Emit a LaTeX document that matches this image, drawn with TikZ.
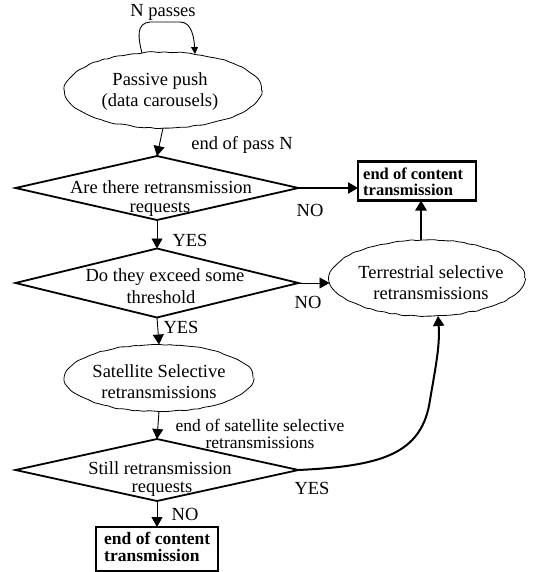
\documentclass[tikz,border=0pt]{standalone}
\usepackage{fontspec}
\setmainfont{Liberation Serif}
\usetikzlibrary{shapes.geometric,arrows.meta,decorations.pathmorphing}
\begin{document}
\begin{tikzpicture}[x=1pt,y=-1pt,
  txt/.style={font=\fontsize{18.5}{21}\selectfont, inner sep=0pt, align=center},
  dia/.style={draw, diamond, line width=1.8pt, inner sep=0pt, outer sep=0pt, line join=miter},
  blob/.style={draw, ellipse, line width=0.8pt, inner sep=0pt, outer sep=0pt,
     decorate, decoration={random steps, segment length=5pt, amplitude=0.7pt}, rounded corners=1.5pt},
  endbox/.style={draw, line width=2.6pt, inner sep=0pt, outer sep=0pt},
  thin/.style={line width=0.9pt, -{Triangle[width=11pt,length=10pt]}},
  thick/.style={line width=2.6pt, -{Triangle[width=11pt,length=10pt]}},
  boxtxt/.style={font=\bfseries\fontsize{16.5}{16.5}\selectfont, inner sep=0pt, align=left}
]
\pgfmathsetseed{7}
\useasboundingbox (0,0) rectangle (532,572);

% shapes
\node[blob, minimum width=197pt, minimum height=76pt] (passive) at (163,90) {};
\node[dia, minimum width=283pt, minimum height=64pt] (d1) at (157,188) {};
\node[endbox, minimum width=118pt, minimum height=39pt] (box1) at (417,181) {};
\node[dia, minimum width=283pt, minimum height=69pt] (d2) at (157,283) {};
\node[blob, minimum width=195pt, minimum height=76pt] (terr) at (427,278) {};
\node[blob, minimum width=188pt, minimum height=67pt] (sat) at (159,378) {};
\node[dia, minimum width=283pt, minimum height=62pt] (d3) at (157,470) {};
\node[endbox, minimum width=122pt, minimum height=44pt] (box2) at (157,549) {};

% texts inside shapes
\node[txt] (tpassive) at (160,92) {Passive push\\(data carousels)};
\node[txt] (td1a) at (161,187) {Are there retransmission};
\node[txt] (td1b) at (160,209) {requests};
\node[txt] (td2a) at (165,277) {Do they exceed some};
\node[txt] (td2b) at (161,297) {threshold};
\node[txt] (tterr) at (431,283) {Terrestrial selective\\retransmissions};
\node[txt] (tsat) at (159,382) {Satellite Selective\\retransmissions};
\node[txt] (td3a) at (160,468) {Still retransmission};
\node[txt] (td3b) at (162,489) {requests};
\node[boxtxt, anchor=west] (tbox1) at (363,182) {end of content\\transmission};
\node[boxtxt, font=\bfseries\fontsize{17.5}{17}\selectfont, anchor=west] (tbox2) at (104,547) {end of content\\transmission};

% labels
\node[txt] (lN) at (163,12) {N passes};
\node[txt] (lpass) at (242,145) {end of pass N};
\node[txt] (lno1) at (310,210) {NO};
\node[txt] (lyes1) at (190,240) {YES};
\node[txt] (lno2) at (308,302) {NO};
\node[txt] (lyes2) at (181,327) {YES};
\node[txt, font=\fontsize{17.5}{17.5}\selectfont] (lsat) at (260,434) {end of satellite selective\\retransmissions};
\node[txt] (lyes3) at (312,488) {YES};
\node[txt] (lno3) at (185,514) {NO};

% loop over passive push
\coordinate (loopA) at (142,53);
\coordinate (loopB) at (195,54);
\draw[line width=0.9pt, -{Triangle[width=7pt,length=7pt]}] (loopA) .. controls (138,38) and (136,23) .. (150,22)
   -- (180,22) .. controls (192,22) and (194,38) .. (loopB);

% connectors
\draw[thin] (passive.south) -- (d1.north);
\draw[thick] (d1.east) -- (d1.east -| box1.west);
\draw[thick] ([xshift=-6pt]terr.north) -- ([xshift=-6pt]terr.north |- box1.south);
\draw[thin] (d1.south) -- (d2.north);
\draw[thin] (d2.east) -- (d2.east -| terr.west);
\draw[thin] (d2.south) -- (sat.north);
\draw[thin] (sat.south) -- (d3.north);
\coordinate (terrin) at ([xshift=11pt]terr.south);
\draw[thick, line width=2pt] (d3.east) .. controls (380,466) and (422,455) .. (430,400)
   .. controls (436,365) and (440,345) .. (terrin);
\draw[thin] (d3.south) -- (box2.north);
\end{tikzpicture}
\end{document}
